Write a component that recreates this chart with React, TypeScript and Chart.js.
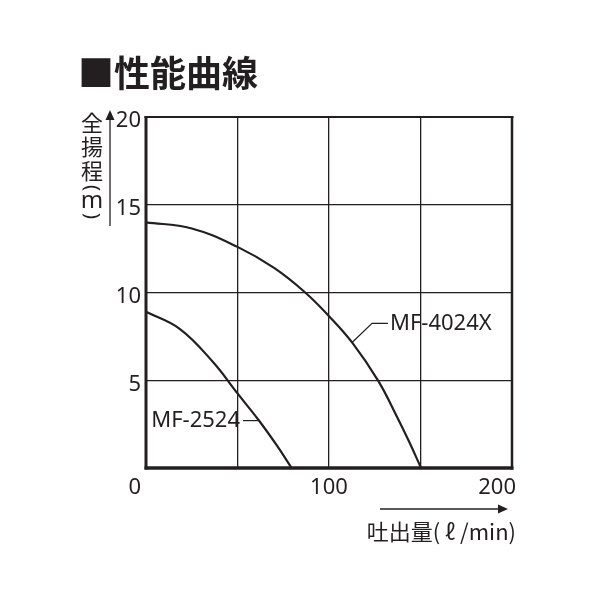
import { useEffect, useRef } from 'react'
import { Chart, registerables } from 'chart.js'

Chart.register(...registerables)

// Performance curves (flow l/min, head m)
const flow4024 = [0, 25, 50, 70, 87, 100, 113, 127, 137, 144, 150.3]
const head4024 = [14.0, 13.65, 12.6, 11.4, 10.0, 8.65, 7.1, 4.95, 2.95, 1.45, 0]
const flow2524 = [0, 18.4, 36.6, 50, 61.4, 71.4, 79.6]
const head2524 = [8.9, 7.93, 6.04, 4.25, 2.75, 1.3, 0]

// Leader lines from curve to the model labels
const leader4024X = [112.6, 123.5, 132.2]
const leader4024Y = [7.15, 8.24, 8.24]
const leader2524X = [53, 61.4]
const leader2524Y = [2.7, 2.7]

const modelNames = ['MF-4024X', 'MF-2524']
const xTicks = [0, 100, 200]
const yTicks = [5, 10, 15, 20]

const INK = '#231f20'
const SANS = '"Noto Sans", "Open Sans", sans-serif'
const CJK = '"Noto Sans CJK JP", "Noto Sans", sans-serif'

const toPoints = (xs: number[], ys: number[]) => xs.map((x, i) => ({ x, y: ys[i] }))

const decorations = {
  id: 'decorations',
  afterDatasetsDraw(chart: any) {
    const { ctx, chartArea, scales } = chart
    const xs = scales.x
    const ys = scales.y
    ctx.save()
    ctx.strokeStyle = INK
    ctx.fillStyle = INK

    // frame
    const edge = (x1: number, y1: number, x2: number, y2: number, w: number) => {
      ctx.lineWidth = w
      ctx.beginPath()
      ctx.moveTo(x1, y1)
      ctx.lineTo(x2, y2)
      ctx.stroke()
    }
    const { left, right, top, bottom } = chartArea
    edge(left - 1.5, top, right + 1.5, top, 2)
    edge(left, top - 1, left, bottom + 1.5, 3)
    edge(right, top - 1, right, bottom + 1.5, 2.5)
    edge(left - 1.5, bottom, right + 1.5, bottom, 3.5)

    // tick labels
    ctx.font = `22px ${SANS}`
    ctx.textBaseline = 'middle'
    xTicks.forEach((v, i) => {
      const px = xs.getPixelForValue(v)
      if (i === 0) {
        ctx.textAlign = 'right'
        ctx.fillText(String(v), px - 5, bottom + 20)
      } else if (i === xTicks.length - 1) {
        ctx.textAlign = 'right'
        ctx.fillText(String(v), px + 4, bottom + 20)
      } else {
        ctx.textAlign = 'center'
        ctx.fillText(String(v), px, bottom + 20)
      }
    })
    ctx.textAlign = 'right'
    yTicks.forEach((v) => {
      ctx.fillText(String(v), left - 5, ys.getPixelForValue(v) + 4)
    })

    // model labels
    ctx.textAlign = 'left'
    ctx.fillText(modelNames[0], xs.getPixelForValue(leader4024X[2]) + 2, ys.getPixelForValue(leader4024Y[2]))
    ctx.textAlign = 'right'
    ctx.fillText(modelNames[1], xs.getPixelForValue(leader2524X[0]) - 3, ys.getPixelForValue(leader2524Y[0]))

    // title
    ctx.textAlign = 'left'
    ctx.textBaseline = 'alphabetic'
    ctx.font = `bold 36px ${CJK}`
    ctx.fillText('■性能曲線', 78, 87)

    // x axis title and arrow
    ctx.font = `22px ${CJK}`
    ctx.textAlign = 'right'
    ctx.textBaseline = 'middle'
    ctx.fillText('吐出量( ℓ /min)', 516, 532)
    ctx.lineWidth = 1.3
    ctx.beginPath()
    ctx.moveTo(380, 509)
    ctx.lineTo(500, 509)
    ctx.stroke()
    ctx.beginPath()
    ctx.moveTo(508, 509)
    ctx.lineTo(498, 504.5)
    ctx.lineTo(498, 513.5)
    ctx.closePath()
    ctx.fill()

    // y axis title (vertical) and arrow
    ctx.textAlign = 'center'
    const vChars = ['全', '揚', '程']
    const vY = [123, 147, 171]
    ctx.font = `22px ${CJK}`
    vChars.forEach((c, i) => ctx.fillText(c, 92, vY[i]))
    ctx.font = `24px ${SANS}`
    ctx.fillText('m', 92, 201)
    ctx.font = `20px ${SANS}`
    const paren = (c: string, y: number) => {
      ctx.save()
      ctx.translate(92, y)
      ctx.rotate(Math.PI / 2)
      ctx.fillText(c, 0, 0)
      ctx.restore()
    }
    paren('(', 188)
    paren(')', 216)

    ctx.lineWidth = 1.3
    ctx.beginPath()
    ctx.moveTo(110, 226)
    ctx.lineTo(110, 118)
    ctx.stroke()
    ctx.beginPath()
    ctx.moveTo(110, 110)
    ctx.lineTo(105.5, 120)
    ctx.lineTo(114.5, 120)
    ctx.closePath()
    ctx.fill()

    ctx.restore()
  },
}

export default function App() {
  const canvasRef = useRef<HTMLCanvasElement>(null)
  const chartRef = useRef<Chart | null>(null)

  useEffect(() => {
    if (!canvasRef.current) return
    const curve = (label: string, xs: number[], ys: number[]) => ({
      label,
      data: toPoints(xs, ys),
      showLine: true,
      borderColor: INK,
      borderWidth: 2.2,
      pointRadius: 0,
      tension: 0.4,
    })
    const leader = (xs: number[], ys: number[]) => ({
      label: 'leader',
      data: toPoints(xs, ys),
      showLine: true,
      borderColor: INK,
      borderWidth: 1.2,
      pointRadius: 0,
      tension: 0,
    })

    chartRef.current = new Chart(canvasRef.current, {
      type: 'scatter',
      data: {
        datasets: [
          curve(modelNames[0], flow4024, head4024),
          curve(modelNames[1], flow2524, head2524),
          leader(leader4024X, leader4024Y),
          leader(leader2524X, leader2524Y),
        ] as any,
      },
      options: {
        responsive: false,
        animation: false,
        layout: { padding: { left: 146, right: 86, top: 117, bottom: 130 } },
        plugins: { legend: { display: false }, tooltip: { enabled: false } },
        scales: {
          x: {
            type: 'linear',
            min: 0,
            max: 200,
            ticks: { display: false, stepSize: 50 },
            grid: { color: INK, lineWidth: 1.3, drawTicks: false },
            border: { display: false },
          },
          y: {
            type: 'linear',
            min: 0,
            max: 20,
            ticks: { display: false, stepSize: 5 },
            grid: { color: INK, lineWidth: 1.3, drawTicks: false },
            border: { display: false },
          },
        },
      },
      plugins: [decorations],
    })
    return () => {
      chartRef.current?.destroy()
      chartRef.current = null
    }
  }, [])

  return (
    <div style={{ position: 'fixed', left: 0, top: 0, width: 598, height: 598, background: '#fff' }}>
      <canvas ref={canvasRef} width={598} height={598} style={{ width: 598, height: 598 }} />
    </div>
  )
}
